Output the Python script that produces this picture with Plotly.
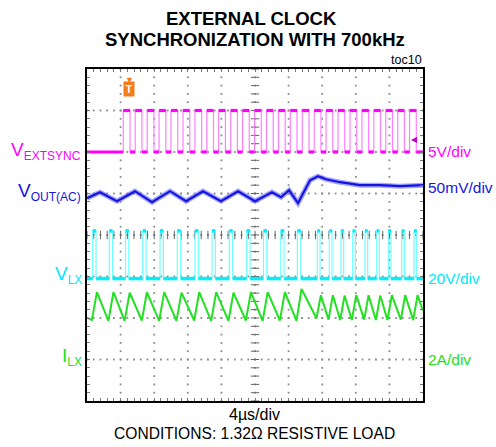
import plotly.graph_objects as go

# ---------------- data ----------------
T_PER_DIV_US = 4.0
N_XDIV = 10
N_YDIV = 8

# V_EXTSYNC, 5V/div : rising-edge times (us) and high time
sync_rise_us = [4.32, 5.74, 7.17, 8.58, 10.00, 11.43, 12.85, 14.26, 15.68, 17.11,
                18.52, 19.94, 21.37, 22.79, 24.20, 25.63, 27.05, 28.46, 29.88, 31.31,
                32.73, 34.14, 35.57, 36.99, 38.40]
sync_high_time_us = 0.80
sync_low_v = 0.0
sync_high_v = 5.0

# V_LX, 20V/div : switch-on times (us) and on-times (us)
lx_on_us = [0.68, 2.65, 4.58, 6.63, 8.69, 10.75, 12.86, 14.88, 16.94, 19.01, 21.01,
            23.06, 25.04, 27.42, 28.85, 30.24, 31.63, 33.10, 34.49, 35.87, 37.46, 38.93]
lx_ton_us = [0.40, 0.40, 0.40, 0.40, 0.40, 0.40, 0.40, 0.40, 0.40, 0.40, 0.40,
             0.40, 0.40, 0.32, 0.32, 0.32, 0.32, 0.32, 0.32, 0.32, 0.32, 0.32]
lx_low_v = 0.0
lx_high_v = 23.0

# I_LX, 2A/div : valley and peak current of each switching cycle (A)
ilx_valley_a = [1.90, 1.86, 1.86, 1.88, 1.86, 1.86, 1.88, 1.86, 1.86, 1.88, 1.86,
                1.88, 1.86, 1.99, 1.92, 1.90, 1.90, 1.92, 1.90, 1.90, 1.92, 1.90]
ilx_peak_a = [3.25, 3.25, 3.22, 3.25, 3.25, 3.22, 3.25, 3.25, 3.22, 3.25, 3.25,
              3.25, 3.40, 3.10, 3.10, 3.08, 3.10, 3.10, 3.08, 3.10, 3.10, 3.10]
ilx_start_a = 2.02
ilx_end_a = 2.35

# V_OUT(AC), 50mV/div
vout_t_us = [0.0, 1.55, 3.57, 5.71, 7.74, 9.88, 11.79, 13.81, 15.95, 17.98, 20.0,
             22.02, 23.10, 24.05, 25.12, 26.55, 27.5, 28.45, 30.12, 32.5, 34.88, 37.26, 40.0]
vout_mv = [-15.7, -8.4, -19.3, -7.2, -20.5, -7.2, -19.3, -7.2, -19.3, -7.2, -19.3,
           -8.4, -14.5, -6.0, -21.7, 6.0, 10.8, 7.2, 3.6, 0.0, 0.0, -1.2, 0.0]

# channel scale (units/div) and screen offset (div)
SYNC_SCALE, SYNC_POS = 5.0, 2.0
VOUT_SCALE, VOUT_POS = 50.0, 1.2
LX_SCALE, LX_POS = 20.0, -1.05
ILX_SCALE, ILX_POS = 2.0, -3.0

T_END = T_PER_DIV_US * N_XDIV

# ---------------- build waveforms from the data ----------------
def pulse_train(starts, widths, lo, hi):
    xs, ys = [0.0], [lo]
    px, py = [0.0], [lo]          # plateau segments only
    for s, w in zip(starts, widths):
        xs += [s, s, s + w, s + w]
        ys += [lo, hi, hi, lo]
        px += [s, None, s, s + w, None, s + w]
        py += [lo, None, hi, hi, None, lo]
    xs.append(T_END); ys.append(lo)
    px.append(T_END); py.append(lo)
    return xs, ys, px, py

def to_div(vals, scale, pos):
    return [None if v is None else pos + v / scale for v in vals]

sx, sy, spx, spy = pulse_train(sync_rise_us, [sync_high_time_us] * len(sync_rise_us),
                               sync_low_v, sync_high_v)
lx, ly, lpx, lpy = pulse_train(lx_on_us, lx_ton_us, lx_low_v, lx_high_v)

ix, iy = [0.0], [ilx_start_a]
for s, w, v, p in zip(lx_on_us, lx_ton_us, ilx_valley_a, ilx_peak_a):
    ix += [s - 0.1, s + w + 0.1]
    iy += [v, p]
ix.append(T_END); iy.append(ilx_end_a)

fig = go.Figure()

# graticule dots
gx, gy = [], []
for j in range(1, N_YDIV):
    for k in range(N_XDIV * 5 + 1):
        gx.append(k * T_PER_DIV_US / 5); gy.append(j - N_YDIV / 2)
for i in range(1, N_XDIV):
    for k in range(N_YDIV * 5 + 1):
        gx.append(i * T_PER_DIV_US); gy.append(k / 5 - N_YDIV / 2)
fig.add_trace(go.Scatter(x=gx, y=gy, mode="markers", hoverinfo="skip",
                         marker=dict(symbol="square", size=1.8, color="#8a8a8a",
                                     line=dict(width=0))))
# center cross ticks
cx = [k * T_PER_DIV_US / 5 for k in range(N_XDIV * 5 + 1)]
fig.add_trace(go.Scatter(x=cx, y=[0] * len(cx), mode="markers", hoverinfo="skip",
                         marker=dict(symbol="line-ns", size=6,
                                     line=dict(width=1, color="#666666"))))
cy = [k / 5 - N_YDIV / 2 for k in range(N_YDIV * 5 + 1)]
fig.add_trace(go.Scatter(x=[T_END / 2] * len(cy), y=cy, mode="markers", hoverinfo="skip",
                         marker=dict(symbol="line-ew", size=6,
                                     line=dict(width=1, color="#666666"))))

# green I_LX
fig.add_trace(go.Scatter(x=ix, y=to_div(iy, ILX_SCALE, ILX_POS), mode="lines",
                         line=dict(color="#22e022", width=2)))
# cyan V_LX
fig.add_trace(go.Scatter(x=lx, y=to_div(ly, LX_SCALE, LX_POS), mode="lines",
                         line=dict(color="#70ffff", width=1.2)))
fig.add_trace(go.Scatter(x=lpx, y=to_div(lpy, LX_SCALE, LX_POS), mode="lines",
                         line=dict(color="#00f0ff", width=3.5)))
# blue V_OUT
fig.add_trace(go.Scatter(x=vout_t_us, y=to_div(vout_mv, VOUT_SCALE, VOUT_POS), mode="lines",
                         line=dict(color="#6a6aff", width=5), opacity=0.6))
fig.add_trace(go.Scatter(x=vout_t_us, y=to_div(vout_mv, VOUT_SCALE, VOUT_POS), mode="lines",
                         line=dict(color="#1515e0", width=2.2)))
# magenta V_EXTSYNC
fig.add_trace(go.Scatter(x=sx, y=to_div(sy, SYNC_SCALE, SYNC_POS), mode="lines",
                         line=dict(color="#ff80ff", width=1.2)))
fig.add_trace(go.Scatter(x=spx, y=to_div(spy, SYNC_SCALE, SYNC_POS), mode="lines",
                         line=dict(color="#ff00ff", width=3.2)))

# ---------------- layout ----------------
L, R, T, B = 87, 423, 69, 401
W, H = 496, 447

def pxx(x):
    return (x - L) / (R - L)

def pyy(y):
    return (B - y) / (B - T)

FONT = "Liberation Sans, Arial, Helvetica, sans-serif"

ann = []
def text(t, x, y, size, color="black", xanchor="center", bold=False, yanchor="middle"):
    ann.append(dict(text=("<b>%s</b>" % t) if bold else t, x=pxx(x), y=pyy(y),
                    xref="paper", yref="paper", showarrow=False, xanchor=xanchor,
                    yanchor=yanchor, font=dict(family=FONT, size=size, color=color)))

def lbl(main, sub):
    return '%s<sub><span style="font-size:12px">%s</span></sub>' % (main, sub)

text("EXTERNAL CLOCK", 251, 19, 18.5, bold=True)
text("SYNCHRONIZATION WITH 700kHz", 255, 39, 18.5, bold=True)
text("toc10", 424, 60, 12.5, xanchor="right")
text(lbl("V", "EXTSYNC"), 83, 151, 19, "#ff00ff", xanchor="right")
text(lbl("V", "OUT(AC)"), 83, 192, 19, "#1515e0", xanchor="right")
text(lbl("V", "LX"), 84, 275, 19, "#00e8ff", xanchor="right")
text(lbl("I", "LX"), 84, 357, 19, "#22e022", xanchor="right")
text("5V/div", 426, 151, 15.5, "#ff00ff", xanchor="left")
text("50mV/div", 426, 187, 15.5, "#1515e0", xanchor="left")
text("20V/div", 426, 278, 15.5, "#00e8ff", xanchor="left")
text("2A/div", 426, 359, 15.5, "#22e022", xanchor="left")
text("4µs/div", 254, 414, 16)
text("CONDITIONS: 1.32Ω RESISTIVE LOAD", 254, 434, 15.6)
# trigger position marker
ann.append(dict(text="▼", x=pxx(123), y=pyy(71), xref="paper", yref="paper",
                showarrow=False, font=dict(size=9, color="#f07d1a")))
ann.append(dict(text="<b>T</b>", x=pxx(123), y=pyy(81), xref="paper", yref="paper",
                showarrow=False, bgcolor="#f07d1a", borderpad=1, width=8, height=12,
                font=dict(family=FONT, size=11, color="white")))
# trigger level marker
ann.append(dict(text="◀", x=pxx(420), y=pyy(131), xref="paper", yref="paper",
                showarrow=False, font=dict(size=8, color="#c000c0")))

axis_common = dict(showgrid=False, zeroline=False, showline=True, linecolor="black",
                   linewidth=2, mirror="allticks", ticks="inside", ticklen=3,
                   tickcolor="#777777", tickwidth=1, showticklabels=False)

fig.update_layout(
    width=W, height=H, showlegend=False,
    paper_bgcolor="white", plot_bgcolor="white",
    margin=dict(l=L, r=W - R, t=T, b=H - B, pad=0),
    xaxis=dict(range=[0, T_END], dtick=T_PER_DIV_US / 5, tick0=0, **axis_common),
    yaxis=dict(range=[-N_YDIV / 2, N_YDIV / 2], dtick=0.2, tick0=0, **axis_common),
    annotations=ann,
)

fig.write_html("out.html", config={"displayModeBar": False},
               post_script="document.body.style.margin='0px';")
